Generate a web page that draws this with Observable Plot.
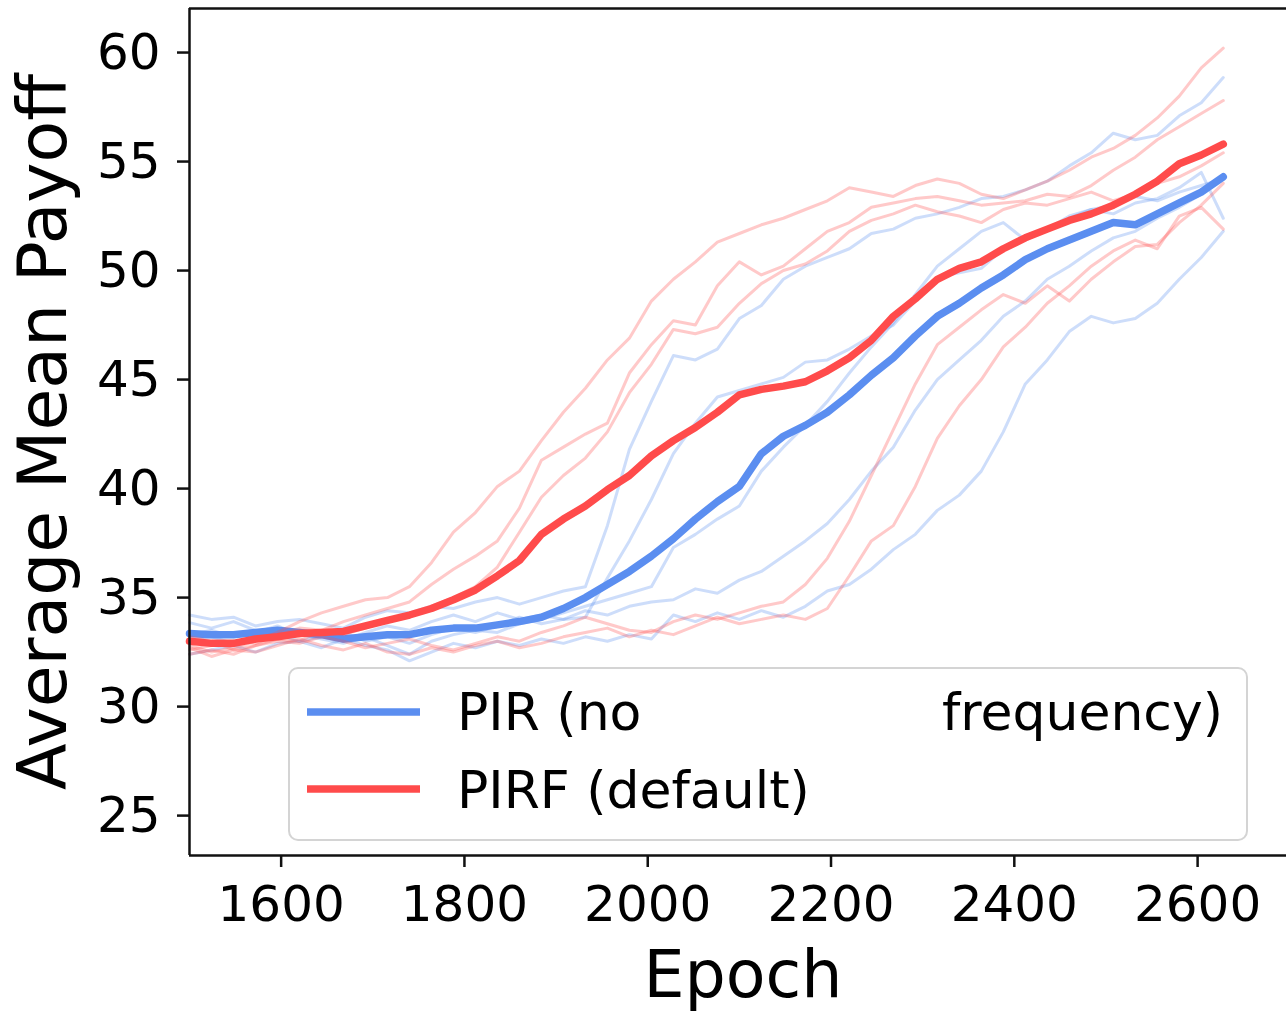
<!DOCTYPE html>
<html>
<head>
<meta charset="utf-8">
<script src="https://cdn.jsdelivr.net/npm/d3@7"></script>
<script src="https://cdn.jsdelivr.net/npm/@observablehq/plot@0.6"></script>
<style>
  html, body { margin: 0; padding: 0; background: #fff; }
  #chart { position: relative; width: 1286px; height: 1014px; overflow: hidden; }
</style>
</head>
<body>
<div id="chart"></div>
<script>
// ---- data ----
const epochs = [1500,1524,1548,1572,1596,1620,1644,1668,1692,1716,
  1740,1764,1788,1812,1836,1860,1884,1908,1932,1956,
  1980,2004,2028,2052,2076,2100,2124,2148,2172,2196,
  2220,2244,2268,2292,2316,2340,2364,2388,2412,2436,
  2460,2484,2508,2532,2556,2580,2604,2628];

const xTicks = [1600, 1800, 2000, 2200, 2400, 2600];
const yTicks = [25, 30, 35, 40, 45, 50, 55, 60];
const xDomain = [1500, 2697];
const yDomain = [23.17, 62.02];

// PIR (no frequency) – mean
const pirMean = [33.35,33.3,33.3,33.4,33.5,33.4,33.3,33.1,33.2,33.3,
  33.3,33.5,33.6,33.6,33.75,33.9,34.1,34.5,35.0,35.6,
  36.2,36.9,37.7,38.6,39.4,40.1,41.6,42.4,42.9,43.5,
  44.3,45.2,46.0,47.0,47.9,48.5,49.2,49.8,50.5,51.0,
  51.4,51.8,52.2,52.1,52.6,53.1,53.6,54.3];

// PIR individual runs
const pirRun1 = [34.2,34.0,34.1,33.7,33.9,34.0,33.8,33.6,34.1,34.4,
  34.3,34.6,34.5,34.8,35.0,34.7,35.0,35.3,35.5,38.3,
  41.8,44.0,46.1,45.9,46.4,47.8,48.4,49.6,50.2,50.6,
  51.0,51.7,51.9,52.4,52.6,52.9,53.3,53.4,53.7,54.1,
  54.8,55.4,56.3,56.0,56.2,57.1,57.7,58.85];
const pirRun2 = [33.85,33.6,33.9,33.5,33.2,33.5,33.3,33.0,33.4,33.7,
  33.5,33.9,34.2,33.9,34.3,34.0,34.2,34.0,34.1,35.9,
  37.6,39.5,41.6,43.0,44.2,44.5,44.8,45.1,45.8,45.9,
  46.4,47.0,47.5,48.6,49.7,49.9,50.1,51.0,51.6,51.9,
  52.5,52.8,53.0,53.4,53.2,53.6,53.9,54.2];
const pirRun3 = [33.3,33.5,33.2,33.4,33.7,33.3,33.1,32.9,33.2,32.8,
  32.4,33.0,33.3,33.5,33.4,33.8,34.0,34.3,34.6,34.9,
  35.2,35.5,37.3,37.9,38.6,39.2,40.8,41.9,42.9,44.0,
  45.3,46.5,47.6,48.9,50.2,51.0,51.8,52.2,51.4,51.9,
  52.4,52.8,52.6,53.1,53.3,53.8,54.5,52.4];
const pirRun4 = [33.0,33.2,32.9,33.1,33.3,33.0,33.2,33.4,33.0,33.2,
  32.9,33.3,33.6,33.4,33.7,34.1,33.8,34.0,34.4,34.2,
  34.6,34.8,34.9,35.4,35.2,35.8,36.2,36.9,37.6,38.4,
  39.5,40.8,41.9,43.6,45.0,45.9,46.8,47.9,48.6,49.6,
  50.2,50.9,51.5,51.8,52.4,52.9,53.5,54.25];
const pirRun5 = [32.4,32.6,32.8,32.5,32.9,33.0,32.7,33.1,32.8,32.6,
  32.1,32.5,32.9,32.7,33.0,32.8,33.1,32.9,33.2,33.0,
  33.3,33.1,34.2,33.9,34.3,34.0,34.4,34.1,34.6,35.3,
  35.6,36.3,37.2,37.9,39.0,39.7,40.8,42.6,44.8,45.9,
  47.2,47.9,47.6,47.8,48.5,49.6,50.6,51.8];

// PIRF (default) – mean
const pirfMean = [33.0,32.9,32.9,33.1,33.2,33.35,33.4,33.45,33.7,33.95,
  34.2,34.5,34.9,35.35,36.0,36.7,37.9,38.6,39.2,39.95,
  40.6,41.5,42.2,42.8,43.5,44.3,44.55,44.7,44.9,45.4,
  46.0,46.8,47.9,48.7,49.6,50.1,50.4,51.0,51.5,51.9,
  52.3,52.6,53.0,53.5,54.1,54.9,55.3,55.8];

// PIRF individual runs
const pirfRun1 = [32.8,32.5,32.7,33.0,33.4,33.9,34.3,34.6,34.9,35.0,
  35.5,36.6,38.0,38.9,40.1,40.8,42.2,43.5,44.6,45.9,
  46.9,48.6,49.6,50.4,51.3,51.7,52.1,52.4,52.8,53.2,
  53.8,53.6,53.4,53.9,54.2,54.0,53.5,53.3,53.7,54.1,
  54.6,55.2,55.6,56.2,57.0,58.0,59.3,60.2];
const pirfRun2 = [32.6,32.8,33.0,32.9,33.3,33.6,33.5,33.9,34.2,34.5,
  34.8,35.6,36.3,36.9,37.6,39.1,41.3,41.9,42.5,43.0,
  45.3,46.6,47.7,47.5,49.3,50.4,49.8,50.2,51.0,51.8,
  52.2,52.9,53.1,53.3,53.4,53.2,53.0,53.1,53.2,53.5,
  53.4,53.9,54.6,55.2,56.0,56.6,57.2,57.8];
const pirfRun3 = [33.2,33.0,32.6,32.8,33.1,33.0,33.5,33.3,33.6,34.0,
  34.1,34.6,35.0,35.5,36.4,38.0,39.6,40.6,41.4,42.6,
  44.4,45.7,47.3,47.1,47.4,48.5,49.4,50.0,50.3,50.9,
  51.8,52.3,52.6,53.0,52.7,52.5,52.2,52.8,53.1,53.0,
  53.3,53.6,53.2,53.5,54.0,54.3,54.8,55.4];
const pirfRun4 = [32.4,32.6,32.4,32.8,33.0,32.9,33.2,33.0,32.7,32.9,
  33.1,32.8,32.6,32.9,33.2,33.0,33.4,33.7,34.1,33.8,
  33.5,33.4,33.9,34.2,34.0,34.3,34.6,34.8,35.6,36.8,
  38.5,40.6,42.7,44.8,46.6,47.4,48.2,48.9,48.5,49.3,
  48.6,49.6,50.4,51.1,51.2,52.2,53.0,54.0];
const pirfRun5 = [32.7,32.3,32.6,32.5,32.8,33.1,32.8,32.6,32.9,32.5,
  32.4,32.7,32.5,32.8,33.0,32.7,32.9,33.2,33.4,33.6,
  33.2,33.5,33.3,33.7,34.1,33.8,34.0,34.2,34.0,34.5,
  36.0,37.6,38.3,40.1,42.3,43.8,45.0,46.5,47.4,48.5,
  49.3,50.2,50.9,51.4,51.0,52.5,52.9,51.9];

const legendLabels = ["PIR (no", "frequency)", "PIRF (default)"];
const BLUE = "#5b8ef0";
const RED = "#ff4b4b";

// ---- build tables ----
function rows(series, run) {
  return epochs.map((e, i) => ({epoch: e, value: series[i], run}));
}
const pirRuns = [pirRun1, pirRun2, pirRun3, pirRun4, pirRun5]
  .flatMap((s, k) => rows(s, "pir" + k));
const pirfRuns = [pirfRun1, pirfRun2, pirfRun3, pirfRun4, pirfRun5]
  .flatMap((s, k) => rows(s, "pirf" + k));
const pirMeanRows = rows(pirMean, "pirMean");
const pirfMeanRows = rows(pirfMean, "pirfMean");

const INK = "#111";
const font = "DejaVu Sans";

const plot = Plot.plot({
  width: 1286,
  height: 1014,
  marginLeft: 189,
  marginRight: 0,
  marginTop: 8,
  marginBottom: 159,
  style: {fontFamily: font, color: INK, background: "white", overflow: "hidden"},
  x: {domain: xDomain},
  y: {domain: yDomain},
  marks: [
    Plot.line(pirRuns, {x: "epoch", y: "value", z: "run", stroke: BLUE, strokeOpacity: 0.3, strokeWidth: 3, strokeLinejoin: "round"}),
    Plot.line(pirMeanRows, {x: "epoch", y: "value", stroke: BLUE, strokeWidth: 7.5, strokeLinejoin: "round", strokeLinecap: "round"}),
    Plot.line(pirfRuns, {x: "epoch", y: "value", z: "run", stroke: RED, strokeOpacity: 0.3, strokeWidth: 3, strokeLinejoin: "round"}),
    Plot.line(pirfMeanRows, {x: "epoch", y: "value", stroke: RED, strokeWidth: 7.5, strokeLinejoin: "round", strokeLinecap: "round"}),
    // spines (left, top, bottom)
    Plot.ruleX([xDomain[0]], {stroke: INK, strokeWidth: 2.5}),
    Plot.ruleY([yDomain[1]], {stroke: INK, strokeWidth: 2.5}),
    Plot.ruleY([yDomain[0]], {stroke: INK, strokeWidth: 2.5}),
    Plot.axisX({ticks: xTicks, tickSize: 12, tickPadding: 18, strokeWidth: 2.5, fontSize: 50, label: null, tickFormat: d => String(d), fill: "black"}),
    Plot.axisY({ticks: yTicks, tickSize: 12, tickPadding: 17, strokeWidth: 2.5, fontSize: 50, label: null, fill: "black"}),
    Plot.text(["Epoch"], {frameAnchor: "bottom", dx: 5, dy: 95, lineAnchor: "top", fontSize: 65, fill: "black"}),
    Plot.text(["Average Mean Payoff"], {frameAnchor: "left", dx: -172, rotate: -90, lineAnchor: "top", textAnchor: "middle", fontSize: 68, fill: "black"})
  ]
});

document.getElementById("chart").appendChild(plot);

// ---- legend (inside the axes, lower part) ----
const svg = d3.select(plot);
const lg = svg.append("g").attr("font-family", font).attr("font-size", 52).attr("fill", "black");
lg.append("rect")
  .attr("x", 289).attr("y", 668).attr("width", 958).attr("height", 172)
  .attr("rx", 9).attr("fill", "white").attr("fill-opacity", 0.8)
  .attr("stroke", "#d4d4d4").attr("stroke-width", 2);
lg.append("line").attr("x1", 307).attr("x2", 420).attr("y1", 712).attr("y2", 712)
  .attr("stroke", BLUE).attr("stroke-width", 7.5);
lg.append("line").attr("x1", 307).attr("x2", 420).attr("y1", 789).attr("y2", 789)
  .attr("stroke", RED).attr("stroke-width", 7.5);
lg.append("text").attr("x", 457).attr("y", 730).attr("text-anchor", "start").text(legendLabels[0]);
lg.append("text").attr("x", 1223).attr("y", 730).attr("text-anchor", "end").text(legendLabels[1]);
lg.append("text").attr("x", 457).attr("y", 808).attr("text-anchor", "start").text(legendLabels[2]);
</script>
</body>
</html>
